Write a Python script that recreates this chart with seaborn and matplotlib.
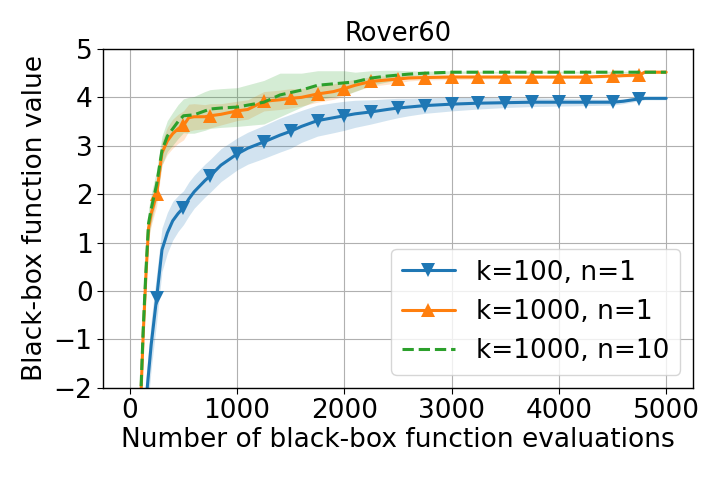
import numpy as np
import matplotlib
matplotlib.use("Agg")
import matplotlib.pyplot as plt
import seaborn as sns

# ================
# Data
# ================
evals = [100, 125, 150, 175, 200, 250, 300, 350, 400, 450, 500, 550, 600, 700, 750,
         850, 1000, 1100, 1250, 1400, 1500, 1600, 1750, 1900, 2000, 2100, 2250, 2400,
         2500, 2600, 2750, 3000, 3250, 3500, 3750, 4000, 4250, 4500, 4600, 4750, 4800, 5000]

k100_n1 = [-4.0, -3.5, -2.3, -1.7, -1.1, -0.15, 0.85, 1.2, 1.45, 1.6, 1.72, 1.9, 2.05, 2.28, 2.38,
           2.6, 2.83, 2.95, 3.08, 3.22, 3.3, 3.4, 3.52, 3.58, 3.62, 3.66, 3.7, 3.75,
           3.78, 3.8, 3.83, 3.86, 3.88, 3.89, 3.9, 3.9, 3.9, 3.9, 3.92, 3.97, 3.98, 3.98]
k100_n1_std = [0.5, 0.5, 0.5, 0.5, 0.5, 0.5, 0.45, 0.42, 0.4, 0.37, 0.35, 0.35, 0.34, 0.34, 0.34,
               0.34, 0.33, 0.33, 0.34, 0.35, 0.35, 0.33, 0.32, 0.31, 0.3, 0.28, 0.25, 0.22,
               0.2, 0.18, 0.16, 0.14, 0.12, 0.1, 0.09, 0.08, 0.07, 0.06, 0.05, 0.04, 0.03, 0.03]

k1000_n1 = [-2.4, -0.9, 0.3, 1.3, 1.6, 2.0, 2.85, 3.1, 3.25, 3.35, 3.42, 3.58, 3.6, 3.6, 3.62,
            3.65, 3.72, 3.75, 3.92, 3.95, 3.98, 4.0, 4.07, 4.12, 4.18, 4.25, 4.33, 4.36,
            4.38, 4.4, 4.41, 4.42, 4.42, 4.42, 4.42, 4.42, 4.42, 4.44, 4.45, 4.46, 4.52, 4.52]
k1000_n1_std = [0.25, 0.25, 0.25, 0.25, 0.25, 0.25, 0.25, 0.28, 0.3, 0.3, 0.3, 0.28, 0.27, 0.25, 0.25,
                0.22, 0.2, 0.2, 0.2, 0.2, 0.2, 0.18, 0.17, 0.16, 0.15, 0.12, 0.1, 0.09,
                0.08, 0.06, 0.05, 0.05, 0.04, 0.04, 0.03, 0.03, 0.03, 0.03, 0.03, 0.03, 0.02, 0.02]

k1000_n10 = [-2.3, -0.8, 0.4, 1.4, 1.7, 2.2, 2.9, 3.2, 3.35, 3.5, 3.62, 3.63, 3.64, 3.72, 3.76,
             3.78, 3.8, 3.84, 3.9, 4.05, 4.1, 4.15, 4.25, 4.28, 4.3, 4.32, 4.4, 4.44,
             4.46, 4.48, 4.5, 4.52, 4.52, 4.52, 4.52, 4.52, 4.52, 4.52, 4.52, 4.52, 4.52, 4.52]
k1000_n10_std = [0.3, 0.3, 0.3, 0.3, 0.3, 0.3, 0.3, 0.32, 0.34, 0.35, 0.35, 0.37, 0.38, 0.4, 0.4,
                 0.4, 0.4, 0.42, 0.45, 0.45, 0.4, 0.35, 0.3, 0.27, 0.25, 0.2, 0.15, 0.12,
                 0.1, 0.07, 0.04, 0.03, 0.02, 0.02, 0.02, 0.02, 0.02, 0.02, 0.02, 0.02, 0.02, 0.02]

x_ticks = [0, 1000, 2000, 3000, 4000, 5000]
y_ticks = [-2, -1, 0, 1, 2, 3, 4, 5]

# ================
# Plot
# ================
sns.set_style("ticks", {
    "axes.edgecolor": "black",
    "axes.labelcolor": "black",
    "text.color": "black",
    "xtick.color": "black",
    "ytick.color": "black",
    "grid.color": "#b0b0b0",
})
plt.rcParams['font.family'] = ['DejaVu Sans']

fig, ax = plt.subplots(figsize=(7.2, 4.8), dpi=100)
fig.subplots_adjust(left=0.143, right=0.9625, bottom=0.192, top=0.898)

x = np.array(evals)
marks = [i for i, v in enumerate(evals) if v % 250 == 0 and v < 5000]

series = [
    (k100_n1, k100_n1_std, "k=100, n=1", "#1f77b4", "v", "-"),
    (k1000_n1, k1000_n1_std, "k=1000, n=1", "#ff7f0e", "^", "-"),
    (k1000_n10, k1000_n10_std, "k=1000, n=10", "#2ca02c", None, "--"),
]

for mean, std, label, color, marker, ls in series:
    mean = np.array(mean)
    std = np.array(std)
    ax.fill_between(x, mean - std, mean + std, color=color, alpha=0.2, linewidth=0)
    sns.lineplot(x=x, y=mean, ax=ax, color=color, label=label, linewidth=2.2,
                 linestyle=ls, marker=marker, markersize=10.5,
                 markevery=marks if marker else None, markeredgewidth=0)

ax.set_xlim(-250, 5250)
ax.set_ylim(-2, 5)
ax.set_xticks(x_ticks)
ax.set_yticks(y_ticks)
ax.grid(True, color="#b0b0b0", linewidth=0.8)
for s in ax.spines.values():
    s.set_visible(True)
    s.set_color("black")
    s.set_linewidth(1.0)
ax.tick_params(axis="both", labelsize=19, length=4, width=0.8, direction="out",
               color="black", labelcolor="black")

ax.set_title("Rover60", fontsize=18.5)
ax.set_xlabel("Number of black-box function evaluations", fontsize=19, labelpad=2)
ax.set_ylabel("Black-box function value", fontsize=19, labelpad=4)
ax.legend(loc="lower right", fontsize=19, framealpha=0.8)

fig.savefig("out.png", dpi=100)
